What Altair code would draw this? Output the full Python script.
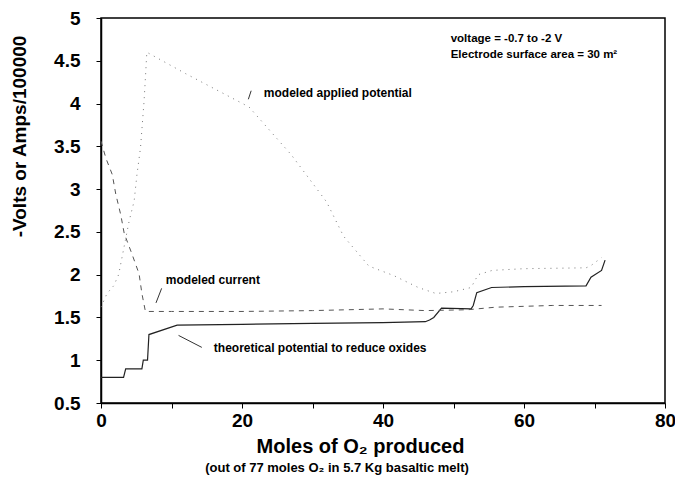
import altair as alt
import pandas as pd

# Theoretical potential to reduce oxides (solid)
theo_x = [0, 3.2, 3.5, 5.8, 6.0, 6.6, 6.8, 10.8, 20, 30, 40, 46, 46.6, 47.2, 48.3, 52.5, 52.8, 53.3, 55.4, 60, 68.8, 69.5, 71.0, 71.5]
theo_y = [0.8, 0.8, 0.9, 0.9, 1.0, 1.0, 1.3, 1.41, 1.42, 1.43, 1.44, 1.45, 1.47, 1.5, 1.61, 1.6, 1.64, 1.79, 1.85, 1.86, 1.87, 1.97, 2.05, 2.17]

# Modeled current (dashed)
cur_x = [0, 0.7, 1.6, 2.1, 2.8, 3.3, 4.4, 5.4, 5.8, 6.3, 10, 20, 30, 40, 46, 52, 56, 64, 71]
cur_y = [3.56, 3.36, 3.17, 2.94, 2.7, 2.48, 2.24, 2.01, 1.78, 1.57, 1.57, 1.57, 1.58, 1.6, 1.58, 1.59, 1.62, 1.64, 1.64]

# Modeled applied potential (dotted)
app_x = [0, 0.85, 1.8, 2.5, 4.0, 4.7, 5.1, 5.6, 6.1, 6.3, 6.5, 12, 21, 27, 32, 34.4, 38, 41.5, 45, 47.5, 50, 52.5, 53.5, 55.5, 60, 68.8, 69.4, 71.0]
app_y = [1.62, 1.78, 1.87, 2.0, 2.63, 2.86, 3.17, 3.48, 4.02, 4.3, 4.6, 4.35, 3.96, 3.4, 2.85, 2.45, 2.1, 1.99, 1.85, 1.78, 1.8, 1.85, 2.0, 2.05, 2.07, 2.08, 2.1, 2.2]

# Annotation texts
ann_text = ["modeled applied potential", "modeled current", "theoretical potential to reduce oxides",
            "voltage = -0.7 to -2 V", "Electrode surface area = 30 m\u00b2"]
ann_x = [23.1, 9.2, 16.0, 49.6, 49.6]
ann_y = [4.12, 1.94, 1.14, 4.76, 4.57]
ann_size = [12, 12, 12, 11.5, 11.5]

# Pointer segments
ptr_x = [21.3, 8.6, 11.0]
ptr_y = [4.15, 1.84, 1.29]
ptr_x2 = [20.9, 7.8, 14.3]
ptr_y2 = [4.05, 1.67, 1.15]

x_ticks = [0, 10, 20, 30, 40, 50, 60, 70, 80]
y_ticks = [0.5, 1, 1.5, 2, 2.5, 3, 3.5, 4, 4.5, 5]

FONT = "Liberation Sans"

xscale = alt.Scale(domain=[0, 80], nice=False, zero=False)
yscale = alt.Scale(domain=[0.5, 5], nice=False, zero=False)

xaxis = alt.Axis(values=x_ticks, labelExpr="datum.value % 20 == 0 ? datum.label : ''",
                 title="Moles of O\u2082 produced", titleFontSize=20, titleFont=FONT, titleFontWeight="bold",
                 titleX=259, titleY=43, titleBaseline="middle", titleAlign="center",
                 labelFontSize=19, labelFont=FONT, labelFontWeight="bold", labelPadding=3,
                 tickSize=5, grid=False, domainColor="black", tickColor="black", domainWidth=1.5,
                 labelColor="black", titleColor="black", labelFlush=False)
yaxis = alt.Axis(values=y_ticks, format=".1~f",
                 title="-Volts or Amps/100000", titleFontSize=19, titleFont=FONT, titleFontWeight="bold",
                 titleX=-82, titleY=118, titleBaseline="middle", titleAlign="center", titleAngle=-90,
                 labelFontSize=19, labelFont=FONT, labelFontWeight="bold", labelPadding=16,
                 tickSize=5, grid=False, domainColor="black", tickColor="black", domainWidth=1.5,
                 labelColor="black", titleColor="black", labelFlush=False)

theo = alt.Chart(pd.DataFrame({"x": theo_x, "y": theo_y})).mark_line(
    color="#222222", strokeWidth=1.2).encode(
    x=alt.X("x:Q", scale=xscale, axis=xaxis), y=alt.Y("y:Q", scale=yscale, axis=yaxis))

cur = alt.Chart(pd.DataFrame({"x": cur_x, "y": cur_y})).mark_line(
    color="#555555", strokeWidth=1.0, strokeDash=[5, 5]).encode(x="x:Q", y="y:Q")

app = alt.Chart(pd.DataFrame({"x": app_x, "y": app_y})).mark_line(
    color="#777777", strokeWidth=1.0, strokeDash=[1, 5]).encode(x="x:Q", y="y:Q")

ann = alt.Chart(pd.DataFrame({"t": ann_text, "x": ann_x, "y": ann_y, "s": ann_size})).mark_text(
    align="left", baseline="middle", font=FONT, fontWeight="bold", color="black").encode(
    x="x:Q", y="y:Q", text="t:N", size=alt.Size("s:Q", scale=None, legend=None))

ptr = alt.Chart(pd.DataFrame({"x": ptr_x, "y": ptr_y, "x2": ptr_x2, "y2": ptr_y2})).mark_rule(
    color="#333333", strokeWidth=1).encode(x="x:Q", y="y:Q", x2="x2:Q", y2="y2:Q")

sub = alt.Chart(pd.DataFrame({"t": ["(out of 77 moles O\u2082 in 5.7 Kg basaltic melt)"]})).mark_text(
    font=FONT, fontWeight="bold", fontSize=13, color="black", align="center", baseline="middle").encode(
    x=alt.value(236), y=alt.value(450), text="t:N")

chart = alt.layer(theo, cur, app, ptr, ann, sub).properties(
    width=564, height=385,
    autosize=alt.AutoSizeParams(type="none"),
    padding={"left": 93, "top": 10, "right": 10, "bottom": 72},
    background="white",
).configure_view(stroke="black", strokeWidth=1.5)

chart.save("out.html", embed_options={"renderer": "svg", "actions": False})
